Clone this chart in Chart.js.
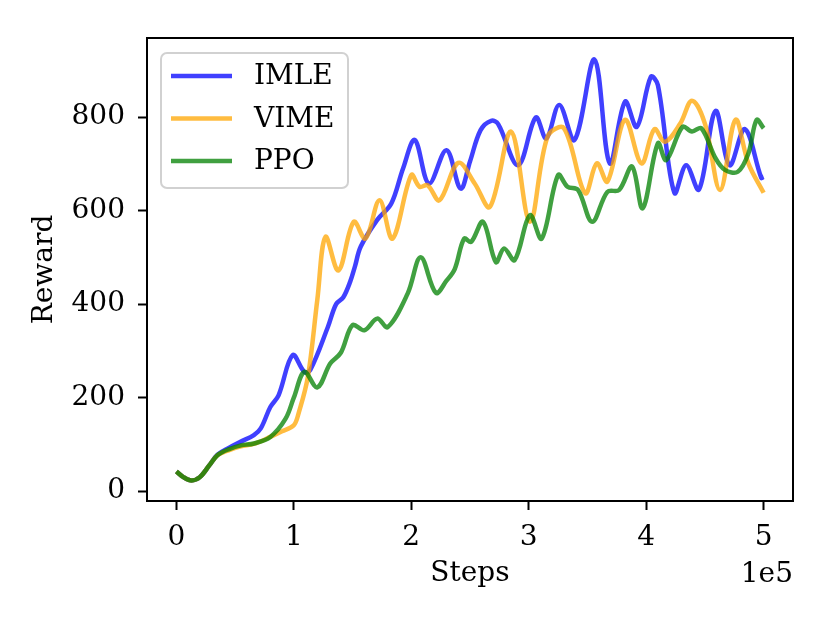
<!DOCTYPE html>
<html>
<head>
<meta charset="utf-8">
<script src="https://cdn.jsdelivr.net/npm/chart.js@4.4.1/dist/chart.umd.min.js"></script>
<style>
  html, body { margin: 0; padding: 0; background: #ffffff; }
  #wrap { width: 830px; height: 623px; }
</style>
</head>
<body>
<div id="wrap"><canvas id="reward_chart" width="830" height="623"></canvas></div>
<script>
// steps are in units of 1e5
const imle_steps = [0, 0.06, 0.13, 0.2, 0.28, 0.35, 0.45, 0.55, 0.66, 0.72, 0.80, 0.87, 0.99, 1.09, 1.14, 1.29, 1.36, 1.42, 1.48, 1.52, 1.57, 1.71, 1.83, 1.93, 2.03, 2.15, 2.30, 2.42, 2.50, 2.59, 2.68, 2.74, 2.91, 3.06, 3.15, 3.26, 3.39, 3.56, 3.69, 3.82, 3.92, 4.04, 4.10, 4.24, 4.34, 4.45, 4.59, 4.71, 4.84, 4.98, 5.0]
const imle_reward = [42, 30, 23, 30, 55, 78, 93, 106, 120, 135, 180, 205, 291, 255, 259, 351, 400, 414, 448, 480, 523, 580, 615, 690, 751, 658, 729, 647, 705, 772, 792, 785, 697, 799, 754, 826, 751, 923, 701, 833, 779, 886, 868, 638, 697, 645, 813, 697, 774, 670, 672]

const vime_steps = [0, 0.06, 0.13, 0.2, 0.28, 0.35, 0.45, 0.55, 0.66, 0.80, 0.90, 1.0, 1.04, 1.12, 1.20, 1.27, 1.38, 1.51, 1.61, 1.73, 1.84, 2.0, 2.07, 2.14, 2.24, 2.40, 2.54, 2.67, 2.85, 3.01, 3.16, 3.30, 3.48, 3.58, 3.67, 3.82, 3.96, 4.07, 4.16, 4.29, 4.39, 4.50, 4.63, 4.76, 4.87, 5.0]
const vime_reward = [42, 30, 23, 30, 55, 77, 88, 96, 101, 116, 128, 141, 166, 245, 409, 544, 472, 576, 540, 622, 540, 676, 651, 654, 622, 702, 658, 608, 769, 576, 758, 776, 637, 701, 662, 794, 701, 774, 747, 786, 835, 786, 644, 794, 701, 638]

const ppo_steps = [0, 0.06, 0.13, 0.2, 0.28, 0.35, 0.45, 0.55, 0.66, 0.80, 0.93, 1.0, 1.09, 1.20, 1.31, 1.40, 1.50, 1.60, 1.71, 1.80, 1.97, 2.08, 2.21, 2.30, 2.37, 2.45, 2.51, 2.61, 2.72, 2.79, 2.88, 3.01, 3.11, 3.25, 3.33, 3.42, 3.54, 3.67, 3.77, 3.88, 3.97, 4.10, 4.17, 4.31, 4.39, 4.47, 4.59, 4.67, 4.78, 4.87, 4.94, 5.0]
const ppo_reward = [42, 30, 23, 30, 55, 77, 90, 98, 102, 116, 155, 200, 255, 222, 273, 296, 355, 344, 369, 351, 423, 500, 424, 450, 475, 540, 533, 576, 490, 519, 494, 590, 540, 676, 651, 644, 576, 640, 644, 694, 605, 744, 708, 779, 769, 776, 712, 687, 683, 722, 794, 776]

const x_ticks = [0, 1, 2, 3, 4, 5]
const y_ticks = [0, 200, 400, 600, 800]

const serif = "'DejaVu Serif', serif"

function to_points(xs, ys) {
    return xs.map((x, i) => ({ x: x, y: ys[i] }))
}

function make_dataset(label, xs, ys, color, order) {
    return {
        label: label,
        data: to_points(xs, ys),
        borderColor: color,
        borderWidth: 4.5,
        pointRadius: 0,
        fill: false,
        tension: 0.35,
        order: order
    }
}

// box round the plot, the inner legend and the 1e5 offset text
const frame_plugin = {
    id: 'frame',
    afterDatasetsDraw(chart) {
        const ctx = chart.ctx
        const area = chart.chartArea
        ctx.save()
        ctx.strokeStyle = '#000000'
        ctx.lineWidth = 2
        ctx.strokeRect(area.left, area.top, area.right - area.left, area.bottom - area.top)

        // legend
        const lx = 161, ly = 53, lw = 187, lh = 135
        ctx.beginPath()
        ctx.roundRect(lx, ly, lw, lh, 6)
        ctx.fillStyle = 'rgba(255,255,255,0.8)'
        ctx.fill()
        ctx.strokeStyle = 'rgba(204,204,204,0.9)'
        ctx.lineWidth = 2
        ctx.stroke()
        ctx.font = '28px ' + serif
        ctx.textBaseline = 'middle'
        ctx.textAlign = 'left'
        chart.data.datasets.forEach((ds, i) => {
            const y = 76 + i * 42.5
            ctx.beginPath()
            ctx.moveTo(171, y)
            ctx.lineTo(232, y)
            ctx.strokeStyle = ds.borderColor
            ctx.lineWidth = 4.5
            ctx.stroke()
            ctx.fillStyle = '#000000'
            ctx.fillText(ds.label, 254, y + 1)
        })

        ctx.textAlign = 'right'
        ctx.fillText('1e5', area.right, 575)
        ctx.restore()
    }
}

const ctx = document.getElementById('reward_chart').getContext('2d')

const reward_chart = new Chart(ctx, {
    type: 'line',
    data: {
        datasets: [
            make_dataset('IMLE', imle_steps, imle_reward, 'rgba(0,0,255,0.75)', 3),
            make_dataset('VIME', vime_steps, vime_reward, 'rgba(255,165,0,0.75)', 2),
            make_dataset('PPO', ppo_steps, ppo_reward, 'rgba(0,128,0,0.75)', 1)
        ]
    },
    options: {
        responsive: false,
        animation: false,
        devicePixelRatio: 1,
        layout: { padding: { top: 38, right: 37, left: 0, bottom: 0 } },
        plugins: {
            legend: { display: false },
            tooltip: { enabled: false }
        },
        scales: {
            x: {
                type: 'linear',
                min: -0.25,
                max: 5.25,
                afterBuildTicks: axis => { axis.ticks = x_ticks.map(v => ({ value: v })) },
                afterFit: axis => { axis.height = 122 },
                grid: {
                    drawOnChartArea: false,
                    drawTicks: true,
                    tickLength: 9,
                    tickWidth: 2,
                    tickColor: '#000000'
                },
                border: { display: true, color: '#000000', width: 2 },
                ticks: {
                    color: '#000000',
                    padding: 11,
                    maxRotation: 0,
                    font: { family: serif, size: 28 },
                    callback: v => String(v)
                },
                title: {
                    display: true,
                    text: 'Steps',
                    color: '#000000',
                    font: { family: serif, size: 28 },
                    padding: { top: 0, bottom: 32 }
                }
            },
            y: {
                type: 'linear',
                min: -21,
                max: 969,
                afterBuildTicks: axis => { axis.ticks = y_ticks.map(v => ({ value: v })) },
                afterFit: axis => { axis.width = 147 },
                grid: {
                    drawOnChartArea: false,
                    drawTicks: true,
                    tickLength: 9,
                    tickWidth: 2,
                    tickColor: '#000000'
                },
                border: { display: true, color: '#000000', width: 2 },
                ticks: {
                    color: '#000000',
                    padding: 13,
                    font: { family: serif, size: 28 },
                    callback: v => String(v)
                },
                title: {
                    display: true,
                    text: 'Reward',
                    color: '#000000',
                    font: { family: serif, size: 28 },
                    padding: { top: 28, bottom: 0 }
                }
            }
        }
    },
    plugins: [frame_plugin]
})
</script>
</body>
</html>
